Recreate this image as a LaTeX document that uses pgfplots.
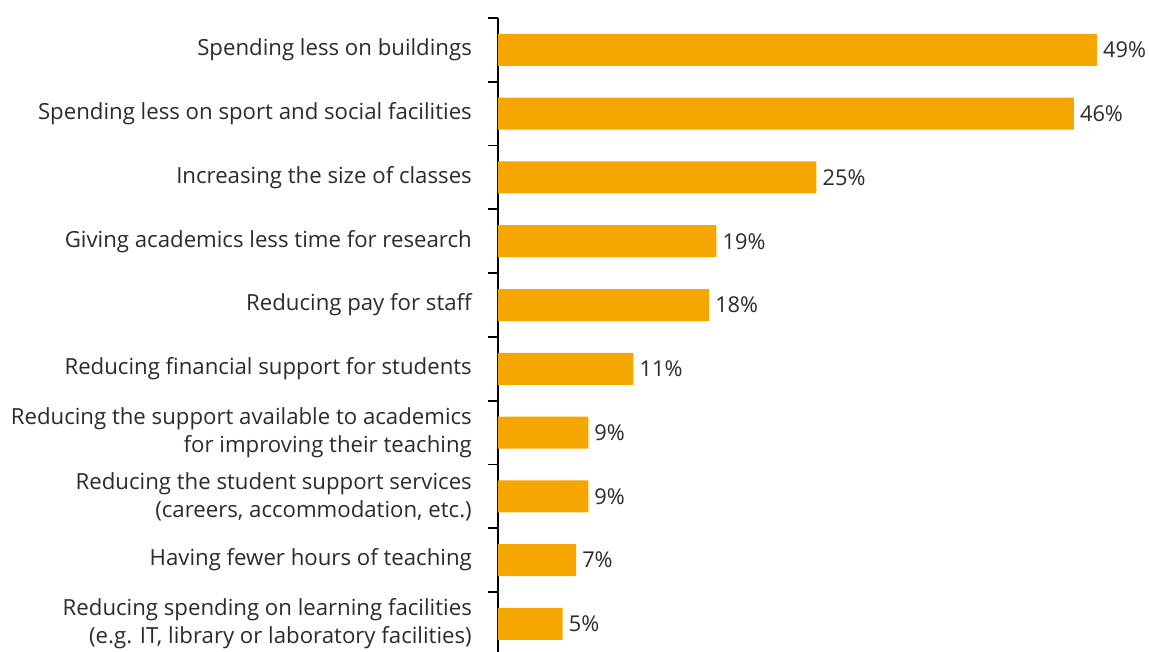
\documentclass[border=0pt]{standalone}
\usepackage{pgfplots}
\pgfplotsset{compat=1.18}
\usepackage{fontspec}
\setmainfont{Open Sans}
\definecolor{barc}{HTML}{F5A700}
\definecolor{txt}{HTML}{2B2B2B}
\begin{document}
\fontsize{22.2}{28}\selectfont
\begin{tikzpicture}[x=1pt,y=1pt]
\path[use as bounding box] (0,0) rectangle (1149,651);
\begin{axis}[
  at={(498pt,633pt)}, anchor=north west,
  scale only axis, width=650pt, height=637.8pt,
  xbar, bar width=32pt, bar shift=0pt,
  xmin=0, xmax=53.28, ymin=-0.5, ymax=9.5, y dir=reverse,
  axis x line=none, axis y line*=left,
  axis line style={line width=2pt, black, -},
  ytick={0,...,9},
  yticklabels={
    {Spending less on buildings},
    {Spending less on sport and social facilities},
    {Increasing the size of classes},
    {Giving academics less time for research},
    {Reducing pay for staff},
    {Reducing financial support for students},
    {Reducing the support available to academics\\for improving their teaching},
    {Reducing the student support services\\(careers, accommodation, etc.)},
    {Having fewer hours of teaching},
    {Reducing spending on learning facilities\\(e.g. IT, library or laboratory facilities)}},
  major tick length=0pt,
  yticklabel style={align=right, text=txt, inner sep=0pt, xshift=-26pt, font=\fontsize{22.2}{28}\selectfont},
  extra y ticks={-0.5,0.5,1.5,2.5,3.5,4.5,5.5,6.5,7.5,8.5},
  extra y tick labels={},
  extra y tick style={major tick length=10pt, tick align=outside, tick style={line width=1.8pt, black}},
  nodes near coords, point meta=explicit symbolic,
  every node near coord/.append style={text=txt, anchor=west, inner sep=0pt, xshift=6pt, font=\fontsize{21.8}{27}\selectfont},
  clip=false,
]
\addplot[fill=barc, draw=none] coordinates {
  (49.1,0) [49\%]
  (47.2,1) [46\%]
  (26.1,2) [25\%]
  (17.9,3) [19\%]
  (17.3,4) [18\%]
  (11.1,5) [11\%]
  (7.4,6) [9\%]
  (7.4,7) [9\%]
  (6.4,8) [7\%]
  (5.3,9) [5\%]
};
\end{axis}
\end{tikzpicture}
\end{document}
